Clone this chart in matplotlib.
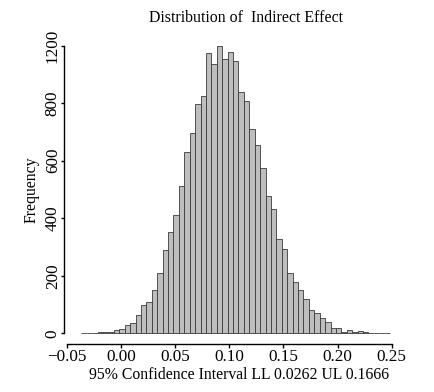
import numpy as np
import matplotlib
matplotlib.use('Agg')
import matplotlib.pyplot as plt

# histogram counts per bin
counts = [2, 1, 2, 3, 4, 5, 10, 14, 28, 36,
          63, 97, 108, 151, 211, 291, 351, 410, 512, 629,
          695, 796, 824, 973, 936, 999, 954, 977, 946, 839,
          808, 710, 654, 575, 477, 431, 328, 292, 210, 177,
          151, 120, 81, 71, 53, 40, 17, 20, 5, 10,
          4, 8, 3, 2, 2, 2, 2]
bin_start = -0.0365
bin_width = 0.005

x_ticks = [-0.05, 0.0, 0.05, 0.10, 0.15, 0.20, 0.25]
x_tick_labels = ['\u22120.05', '0.00', '0.05', '0.10', '0.15', '0.20', '0.25']
y_ticks = [0, 200, 400, 600, 800, 1000]
y_tick_labels = ['0', '200', '400', '600', '800', '1200']

title = 'Distribution of  Indirect Effect'
xlabel = '95% Confidence Interval LL 0.0262 UL 0.1666'
ylabel = 'Frequency'

plt.rcParams['font.family'] = ['Liberation Serif', 'DejaVu Serif']

W, H = 434, 392
fig = plt.figure(figsize=(W / 100, H / 100), dpi=100)
# plot region in pixels: left 60, right 398, top 30, bottom 350
ax = fig.add_axes([60 / W, 1 - 350 / H, 338 / W, 320 / H])

edges = bin_start + bin_width * np.arange(len(counts))
ax.bar(edges, counts, width=bin_width, align='edge',
       color='#bebebe', edgecolor='#3a3a3a', linewidth=0.6)

ax.set_xlim(-0.0562, 0.2558)
ax.set_ylim(-58, 1054.6)

for s in ['top', 'right']:
    ax.spines[s].set_visible(False)
ax.spines['left'].set_position(('data', -0.0525))
ax.spines['left'].set_bounds(0, 1000)
ax.spines['bottom'].set_position(('data', -38.2))
ax.spines['bottom'].set_bounds(-0.05, 0.25)
for s in ['left', 'bottom']:
    ax.spines[s].set_linewidth(1.0)

ax.set_xticks(x_ticks)
ax.set_xticklabels(x_tick_labels, fontsize=12.3)
ax.set_yticks(y_ticks)
ax.set_yticklabels(y_tick_labels, fontsize=12.3, rotation=90, va='center')
ax.tick_params(axis='x', length=3, width=1, pad=0.5)
ax.tick_params(axis='y', length=2, width=1, pad=0.3)

ax.set_title(title, fontsize=11.4, x=0.55, pad=6)
ax.set_xlabel(xlabel, fontsize=11.3, labelpad=1)
ax.xaxis.label.set_x(0.53)
ax.set_ylabel(ylabel, fontsize=11.3, labelpad=3.5)

fig.savefig('out.png', dpi=100)
